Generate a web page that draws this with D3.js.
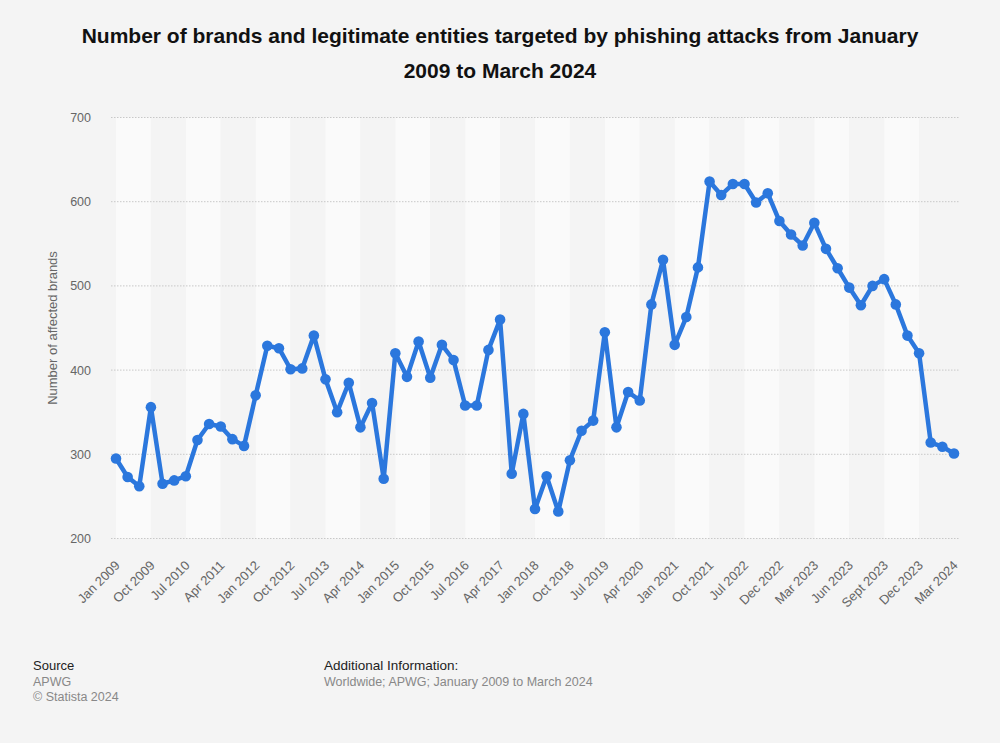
<!DOCTYPE html>
<html>
<head>
<meta charset="utf-8">
<script src="https://cdn.jsdelivr.net/npm/d3@7"></script>
<style>
  html, body { margin: 0; padding: 0; background: #f4f4f4; }
  svg { display: block; font-family: "Liberation Sans", Arial, sans-serif; }
</style>
</head>
<body>
<svg id="chart" width="1000" height="743"></svg>
<script>
// Categories: quarterly Jan 2009 – Oct 2022, then monthly Nov 2022 – Mar 2024
const quarterMonths = ["Jan", "Apr", "Jul", "Oct"];
const categories = [];
for (let y = 2009; y <= 2022; y++) for (const m of quarterMonths) categories.push(m + " " + y);
const monthlyTail = ["Nov 2022", "Dec 2022", "Jan 2023", "Feb 2023", "Mar 2023", "Apr 2023", "May 2023",
  "Jun 2023", "Jul 2023", "Aug 2023", "Sept 2023", "Oct 2023", "Nov 2023", "Dec 2023", "Jan 2024", "Feb 2024", "Mar 2024"];
categories.push(...monthlyTail);

const values = [
  295, 273, 262, 356, 265, 269, 274, 317, 336, 333, 318, 310,
  370, 429, 426, 401, 402, 441, 389, 350, 385, 332, 361, 271,
  420, 392, 434, 391, 430, 412, 358, 358, 424, 460, 277, 348,
  235, 274, 232, 293, 328, 340, 445, 332, 374, 364, 478, 531,
  430, 463, 522, 624, 608, 621, 621, 599, 610, 577, 561, 548,
  575, 544, 521, 498, 477, 500, 508, 478, 441, 420, 314, 309, 301
];

const tickLabels = ["Jan 2009", "Oct 2009", "Jul 2010", "Apr 2011", "Jan 2012", "Oct 2012", "Jul 2013",
  "Apr 2014", "Jan 2015", "Oct 2015", "Jul 2016", "Apr 2017", "Jan 2018", "Oct 2018", "Jul 2019",
  "Apr 2020", "Jan 2021", "Oct 2021", "Jul 2022", "Dec 2022", "Mar 2023", "Jun 2023", "Sept 2023",
  "Dec 2023", "Mar 2024"];
const yTicks = [200, 300, 400, 500, 600, 700];

const svg = d3.select("#chart");
const W = 1000, H = 743;
svg.append("rect").attr("width", W).attr("height", H).attr("fill", "#f4f4f4");

const plotLeft = 111, plotRight = 959, plotTop = 117.5, plotBottom = 538.5;
const x = d3.scalePoint().domain(categories).range([116, 954]);
const y = d3.scaleLinear().domain([200, 700]).range([plotBottom, plotTop]);

// Alternating vertical bands between labelled ticks
const bandG = svg.append("g");
for (let k = 0; k < tickLabels.length - 1; k++) {
  const a = x(tickLabels[k]), b = x(tickLabels[k + 1]);
  bandG.append("rect")
    .attr("x", a).attr("y", plotTop)
    .attr("width", b - a).attr("height", plotBottom - plotTop)
    .attr("fill", k % 2 === 0 ? "#fafafa" : "#f4f4f4");
}

// Grid lines
svg.append("g").selectAll("line").data(yTicks).join("line")
  .attr("x1", plotLeft).attr("x2", plotRight)
  .attr("y1", d => y(d)).attr("y2", d => y(d))
  .attr("stroke", "#c8c8c8").attr("stroke-width", 1)
  .attr("stroke-dasharray", "1.5,1.5");

// Y axis labels
const yAxis = d3.axisLeft(y).tickValues(yTicks).tickSize(0).tickPadding(0);
const yg = svg.append("g").attr("transform", `translate(91,0)`).call(yAxis);
yg.select(".domain").remove();
yg.selectAll("text").attr("fill", "#666").attr("font-size", 12.5)
  .attr("font-family", "Liberation Sans, Arial, sans-serif");

// X axis labels
const xAxis = d3.axisBottom(x).tickValues(tickLabels).tickSize(0).tickPadding(0);
const xg = svg.append("g").attr("transform", `translate(0,563)`).call(xAxis);
xg.select(".domain").remove();
xg.selectAll("text")
  .attr("fill", "#666").attr("font-size", 13)
  .attr("font-family", "Liberation Sans, Arial, sans-serif")
  .attr("text-anchor", "end")
  .attr("y", 0)
  .attr("dy", "0.35em")
  .attr("transform", "translate(1,0) rotate(-45)");

// Y axis title
svg.append("text")
  .attr("transform", "translate(57,328) rotate(-90)")
  .attr("text-anchor", "middle")
  .attr("fill", "#666").attr("font-size", 13)
  .text("Number of affected brands");

// Line
const lineColor = "#2b77dd";
svg.append("path")
  .datum(values)
  .attr("fill", "none")
  .attr("stroke", lineColor)
  .attr("stroke-width", 4.5)
  .attr("stroke-linejoin", "round")
  .attr("d", d3.line().x((d, i) => x(categories[i])).y(d => y(d)));

svg.append("g").selectAll("circle").data(values).join("circle")
  .attr("cx", (d, i) => x(categories[i]))
  .attr("cy", d => y(d))
  .attr("r", 5.3)
  .attr("fill", lineColor);

// Title
const title = svg.append("text")
  .attr("text-anchor", "middle")
  .attr("font-size", 21).attr("font-weight", "bold").attr("fill", "#111");
title.append("tspan").attr("x", 500).attr("y", 43)
  .text("Number of brands and legitimate entities targeted by phishing attacks from January");
title.append("tspan").attr("x", 500).attr("y", 78).text("2009 to March 2024");

// Footer
svg.append("text").attr("x", 33).attr("y", 670).attr("font-size", 13).attr("fill", "#222").text("Source");
svg.append("text").attr("x", 33).attr("y", 686).attr("font-size", 12.5).attr("fill", "#888").text("APWG");
svg.append("text").attr("x", 33).attr("y", 701).attr("font-size", 12.5).attr("fill", "#888").text("© Statista 2024");
svg.append("text").attr("x", 324).attr("y", 670).attr("font-size", 13.5).attr("fill", "#222").text("Additional Information:");
svg.append("text").attr("x", 324).attr("y", 686).attr("font-size", 12.5).attr("fill", "#888")
  .text("Worldwide; APWG; January 2009 to March 2024");
</script>
</body>
</html>
